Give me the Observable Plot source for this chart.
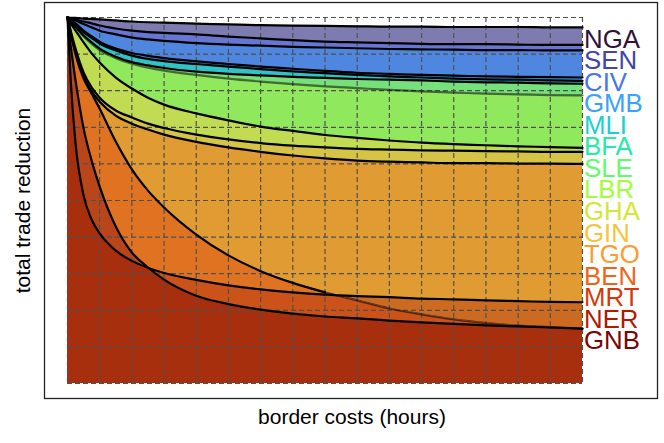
<!DOCTYPE html>
<html><head><meta charset="utf-8">
<script src="https://cdn.jsdelivr.net/npm/d3@7"></script>
<script src="https://cdn.jsdelivr.net/npm/@observablehq/plot@0.6"></script>
<style>
body{margin:0;background:#fff;font-family:"Liberation Sans",Arial,sans-serif;}
#wrap{position:relative;width:664px;height:443px;}
#legend{position:absolute;left:584px;top:28.6px;font-size:25.8px;line-height:21.55px;white-space:nowrap;}
</style></head><body><div id="wrap"></div>
<script>
// border cost grid (hours, arbitrary units) and tick positions
const xValues = [0, 0.1, 0.25, 0.5, 0.75, 1, 1.5, 2, 2.5, 3, 4, 5, 6, 7, 8, 9, 10, 11, 12, 13, 14, 15, 16];
const xTicks = [0,1,2,3,4,5,6,7,8,9,10,11,12,13,14,15,16];
const yTicks = [0,1,2,3,4,5,6,7,8,9,10];

// legend order (top to bottom)
const countries = ["NGA","SEN","CIV","GMB","MLI","BFA","SLE","LBR","GHA","GIN","TGO","BEN","MRT","NER","GNB"];

// upper boundary of each layer (cumulative trade reduction)
const topNGA = [10, 9.99, 9.99, 9.97, 9.96, 9.95, 9.92, 9.89, 9.87, 9.86, 9.83, 9.81, 9.79, 9.78, 9.77, 9.76, 9.75, 9.75, 9.74, 9.74, 9.74, 9.73, 9.73];
const topSEN = [10, 9.98, 9.95, 9.89, 9.84, 9.78, 9.70, 9.64, 9.60, 9.58, 9.54, 9.48, 9.43, 9.38, 9.34, 9.32, 9.30, 9.28, 9.27, 9.27, 9.26, 9.25, 9.25];
const topCIV = [10, 9.97, 9.92, 9.82, 9.73, 9.64, 9.54, 9.45, 9.40, 9.36, 9.30, 9.26, 9.23, 9.20, 9.18, 9.16, 9.14, 9.13, 9.12, 9.11, 9.11, 9.10, 9.10];
const topGMB = [10, 9.93, 9.84, 9.64, 9.48, 9.34, 9.15, 9.03, 8.95, 8.89, 8.80, 8.73, 8.66, 8.60, 8.54, 8.49, 8.46, 8.43, 8.41, 8.39, 8.38, 8.37, 8.36];
const topMLI = [10, 9.92, 9.81, 9.60, 9.44, 9.29, 9.10, 8.96, 8.87, 8.81, 8.73, 8.66, 8.59, 8.53, 8.48, 8.43, 8.39, 8.36, 8.33, 8.31, 8.30, 8.28, 8.27];
const topBFA = [10, 9.89, 9.75, 9.51, 9.32, 9.15, 8.93, 8.78, 8.69, 8.62, 8.52, 8.46, 8.42, 8.38, 8.35, 8.32, 8.30, 8.28, 8.25, 8.23, 8.22, 8.20, 8.19];
const topSLE = [10, 9.88, 9.73, 9.48, 9.28, 9.11, 8.89, 8.74, 8.63, 8.55, 8.43, 8.33, 8.25, 8.18, 8.12, 8.07, 8.02, 7.98, 7.95, 7.92, 7.90, 7.88, 7.87];
const topLBR = [10, 9.84, 9.64, 9.32, 9.02, 8.77, 8.36, 8.06, 7.81, 7.62, 7.38, 7.19, 7.02, 6.90, 6.79, 6.71, 6.64, 6.58, 6.54, 6.51, 6.48, 6.46, 6.44];
const topGHA = [10, 9.64, 9.15, 8.50, 8.09, 7.81, 7.46, 7.27, 7.10, 6.98, 6.80, 6.67, 6.57, 6.50, 6.45, 6.41, 6.39, 6.37, 6.36, 6.35, 6.34, 6.33, 6.33];
const topGIN = [10, 9.59, 9.04, 8.39, 7.98, 7.70, 7.32, 7.10, 6.94, 6.80, 6.60, 6.45, 6.33, 6.23, 6.15, 6.09, 6.06, 6.04, 6.02, 6.02, 6.01, 6.01, 6.00];
const topMRT = [10, 9.56, 8.99, 8.33, 7.92, 7.51, 6.61, 5.85, 5.27, 4.81, 4.07, 3.50, 3.07, 2.75, 2.49, 2.27, 2.05, 1.89, 1.75, 1.65, 1.58, 1.54, 1.50];
const topNER = [10, 8.28, 6.56, 5.14, 4.48, 4.10, 3.63, 3.35, 3.16, 3.02, 2.83, 2.68, 2.57, 2.49, 2.43, 2.39, 2.36, 2.32, 2.30, 2.27, 2.25, 2.23, 2.22];
const topGNB = [10, 9.23, 8.28, 6.97, 6.09, 5.38, 4.29, 3.58, 3.17, 2.84, 2.40, 2.17, 2.02, 1.91, 1.83, 1.78, 1.72, 1.67, 1.63, 1.59, 1.56, 1.53, 1.50];

const labelColors = ["#30123b","#4145ab","#4675ed","#39a2fc","#1bcfd4","#24eca6","#61fc6c","#a4fc3b","#d1e834","#f3c63a","#fe9b2d","#f36315","#d93806","#b11901","#7a0403"];

const rows = xValues.map((x, i) => ({
  x, nga: topNGA[i], sen: topSEN[i], civ: topCIV[i], gmb: topGMB[i], mli: topMLI[i],
  bfa: topBFA[i], sle: topSLE[i], lbr: topLBR[i], gha: topGHA[i], gin: topGIN[i],
  mrt: topMRT[i], ner: topNER[i], gnb: topGNB[i]
}));

const mn = Math.min, mx = Math.max;
const layers = [
  {fill: "#a82f0e", y1: d => 0, y2: d => d.gnb},
  {fill: "#b8461a", y1: d => mn(d.ner, d.gnb), y2: d => d.gnb},
  {fill: "#cb5219", y1: d => d.gnb, y2: d => mx(d.gnb, mn(d.mrt, d.ner))},
  {fill: "#e07322", y1: d => mx(d.ner, d.gnb), y2: d => mx(d.mrt, d.ner, d.gnb)},
  {fill: "#cc6a22", y1: d => mn(d.mrt, d.ner), y2: d => d.ner},
  {fill: "#e09b33", y1: d => mx(d.mrt, d.ner), y2: d => d.gin},
  {fill: "#d5c445", y1: d => d.gin, y2: d => d.gha},
  {fill: "#c1dc52", y1: d => d.gha, y2: d => d.lbr},
  {fill: "#90e85c", y1: d => d.lbr, y2: d => d.sle},
  {fill: "#76e07a", y1: d => d.sle, y2: d => d.bfa},
  {fill: "#2fc3c7", y1: d => d.bfa, y2: d => d.mli},
  {fill: "#3e9be6", y1: d => d.mli, y2: d => d.gmb},
  {fill: "#4f87e0", y1: d => d.gmb, y2: d => d.civ},
  {fill: "#6676d2", y1: d => d.civ, y2: d => d.sen},
  {fill: "#7e7bb1", y1: d => d.sen, y2: d => d.nga}
];

const curve = "monotone-x";
const sw = 2.2;
const solidKeys = ["gnb","ner","gin","gha","lbr","bfa","mli","gmb","civ","sen","nga"];

const marks = [
  ...layers.map(L => Plot.areaY(rows, {x: "x", y1: L.y1, y2: L.y2, fill: L.fill, curve})),
  Plot.ruleX(xTicks, {stroke: "#505050", strokeWidth: 1.2, strokeDasharray: "5,3"}),
  Plot.ruleY(yTicks, {stroke: "#505050", strokeWidth: 1.2, strokeDasharray: "5,3"}),
  Plot.line(rows, {x: "x", y: "sle", stroke: "black", strokeOpacity: 0.55, strokeWidth: sw, curve}),
  Plot.line(rows.filter(d => d.x >= 8), {x: "x", y: "mrt", stroke: "black", strokeOpacity: 0.55, strokeWidth: sw, curve}),
  Plot.line(rows.filter(d => d.x <= 8), {x: "x", y: "mrt", stroke: "black", strokeWidth: sw, curve}),
  ...solidKeys.map(k => Plot.line(rows, {x: "x", y: k, stroke: "black", strokeWidth: sw, curve})),
  Plot.frame({stroke: "#222", strokeWidth: 1.3, insetLeft: -23, insetRight: -75, insetTop: -15, insetBottom: -15}),
  Plot.text(["border costs (hours)"], {frameAnchor: "bottom", dx: 27, dy: 40, fontSize: 21, fill: "black"}),
  Plot.text(["total trade reduction"], {frameAnchor: "left", textAnchor: "middle", rotate: -90, dx: -44, fontSize: 21, fill: "black"})
];

const chart = Plot.plot({
  width: 664, height: 443,
  marginLeft: 67, marginRight: 82, marginTop: 17, marginBottom: 60,
  style: {fontFamily: '"Liberation Sans", Arial, sans-serif', background: "white", overflow: "visible"},
  x: {domain: [0, 16], axis: null},
  y: {domain: [0, 10], axis: null},
  marks
});
const wrap = document.getElementById("wrap");
wrap.appendChild(chart);
const legend = document.createElement("div");
legend.id = "legend";
countries.forEach((c, i) => {
  const el = document.createElement("div");
  el.textContent = c;
  el.style.color = labelColors[i];
  legend.appendChild(el);
});
wrap.appendChild(legend);
</script></body></html>
